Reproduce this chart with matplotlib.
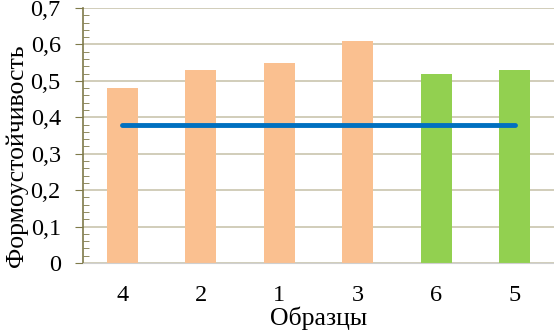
import numpy as np
import matplotlib.pyplot as plt
from matplotlib.ticker import MultipleLocator, FuncFormatter

# данные
образцы = ['4', '2', '1', '3', '6', '5']
формоуст = [0.48, 0.53, 0.55, 0.61, 0.52, 0.53]
цвета = ['#FAC090', '#FAC090', '#FAC090', '#FAC090', '#92D050', '#92D050']
норма = [0.38] * 6

plt.rcParams['font.family'] = ['Liberation Serif', 'DejaVu Serif']

fig = plt.figure(figsize=(5.54, 3.31), dpi=100)
ax = fig.add_axes([83 / 554, 1 - 263 / 331, 471 / 554, 255 / 331])

x = np.arange(len(образцы))
ax.bar(x, формоуст, width=0.4, color=цвета, zorder=2)
ax.plot(x, норма, color='#0070C0', linewidth=3.5, solid_capstyle='round', zorder=3)

ax.set_xlim(-0.5, len(образцы) - 0.5)
ax.set_ylim(0, 0.7)
ax.yaxis.set_major_locator(MultipleLocator(0.1))
ax.yaxis.set_minor_locator(MultipleLocator(0.02))
ax.yaxis.set_major_formatter(FuncFormatter(lambda v, p: f'{v:.1f}'.replace('.', ',') if v > 0 else '0'))
ax.grid(axis='y', which='major', color='#C9C5AE', linewidth=1.2, zorder=0)

ax.set_xticks(x)
ax.set_xticklabels(образцы)
ax.tick_params(axis='x', length=0, labelsize=17.5, pad=16)
ax.tick_params(axis='y', which='major', length=6, direction='out', color='#7F7A4A', labelsize=17.5, pad=10)
ax.tick_params(axis='y', which='minor', length=4, direction='in', color='#7F7A4A')

for s in ['top', 'right']:
    ax.spines[s].set_visible(False)
ax.spines['left'].set_color('#7F7A4A')
ax.spines['left'].set_linewidth(1.2)
ax.spines['bottom'].set_color('#D0D0D0')

ax.set_xlabel('Образцы', fontsize=18.5, labelpad=0)
ax.set_ylabel('Формоустойчивость', fontsize=18.5, labelpad=2, y=0.42)

fig.savefig('out.png', dpi=100)
